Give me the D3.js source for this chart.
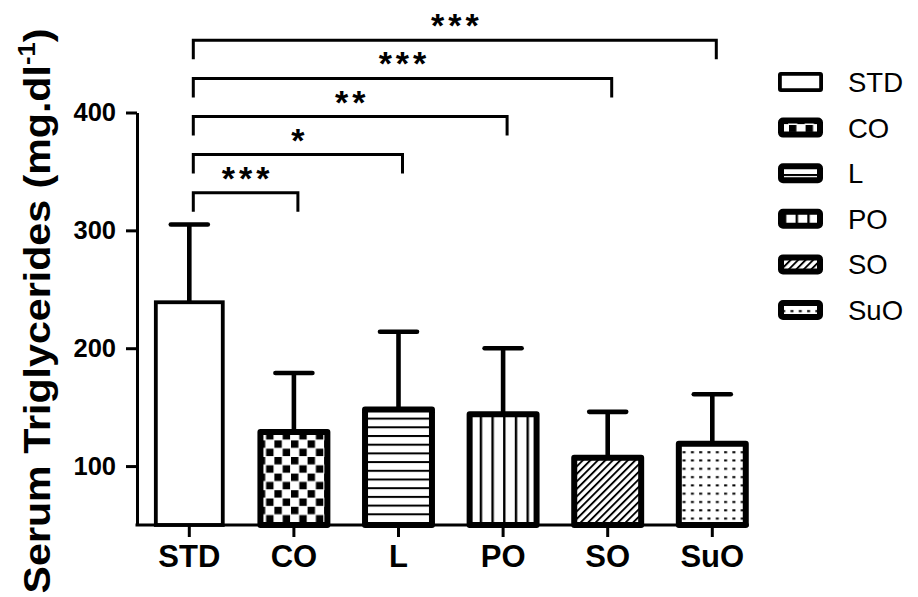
<!DOCTYPE html>
<html>
<head>
<meta charset="utf-8">
<script src="https://cdn.jsdelivr.net/npm/d3@7"></script>
<style>
  html, body { margin: 0; padding: 0; background: #fff; }
  svg { display: block; }
  text { font-family: Arial, "Liberation Sans", Helvetica, sans-serif; fill: #000; }
</style>
</head>
<body>
<svg id="chart" width="918" height="597"></svg>
<script>
// Serum triglycerides by diet group (mean + SD)
const categories = ["STD", "CO", "L", "PO", "SO", "SuO"];
const means = [239, 129, 148, 144, 107, 119];
const sds = [66, 50, 66, 56, 39, 42];
const yTicks = [100, 200, 300, 400];

// Pairwise comparisons against STD
const compareTo = ["CO", "L", "PO", "SO", "SuO"];
const compareStars = ["***", "*", "**", "***", "***"];

const data = categories.map((c, i) => ({ cat: c, mean: means[i], sd: sds[i] }));

const svg = d3.select("#chart");

const x = d3.scaleBand()
  .domain(categories)
  .range([137, 764.6])
  .paddingInner(0.36)
  .paddingOuter(0.18);

const y = d3.scaleLinear()
  .domain([50, 400])
  .range([525, 112.5]);

// ---- fill patterns ----
const defs = svg.append("defs");
function pat(id, w, h, draw, transform) {
  const p = defs.append("pattern")
    .attr("id", id)
    .attr("patternUnits", "userSpaceOnUse")
    .attr("width", w).attr("height", h);
  if (transform) p.attr("patternTransform", transform);
  p.append("rect").attr("width", w).attr("height", h).attr("fill", "#fff");
  draw(p);
}
pat("p-checker", 16.6, 16.6, p => {
  p.append("rect").attr("x", 0.5).attr("y", 0.5).attr("width", 7.4).attr("height", 7.4).attr("fill", "#000");
  p.append("rect").attr("x", 8.8).attr("y", 8.8).attr("width", 7.4).attr("height", 7.4).attr("fill", "#000");
});
pat("p-hlines", 10, 8.7, p => {
  p.append("rect").attr("x", 0).attr("y", 0).attr("width", 10).attr("height", 2).attr("fill", "#000");
});
pat("p-vlines", 11.7, 10, p => {
  p.append("rect").attr("x", 0).attr("y", 0).attr("width", 2.4).attr("height", 10).attr("fill", "#000");
});
pat("p-diag", 5.3, 10, p => {
  p.append("rect").attr("x", 0).attr("y", 0).attr("width", 1.9).attr("height", 10).attr("fill", "#000");
}, "rotate(45)");
pat("p-dots", 8.3, 8.3, p => {
  p.append("rect").attr("x", 2).attr("y", 3).attr("width", 3).attr("height", 2).attr("fill", "#000");
});

const fillFor = {
  STD: "#fff",
  CO: "url(#p-checker)",
  L: "url(#p-hlines)",
  PO: "url(#p-vlines)",
  SO: "url(#p-diag)",
  SuO: "url(#p-dots)"
};
const strokeFor = c => (c === "STD" ? 3.8 : 6);

// ---- error bars (upper SD only) ----
const capHalf = 18.5;
const eb = svg.append("g").attr("class", "errorbars");
data.forEach(d => {
  const cx = x(d.cat) + x.bandwidth() / 2;
  eb.append("line")
    .attr("x1", cx).attr("x2", cx)
    .attr("y1", y(d.mean)).attr("y2", y(d.mean + d.sd))
    .attr("stroke", "#000").attr("stroke-width", 4.6);
  eb.append("line")
    .attr("x1", cx - capHalf).attr("x2", cx + capHalf)
    .attr("y1", y(d.mean + d.sd)).attr("y2", y(d.mean + d.sd))
    .attr("stroke", "#000").attr("stroke-width", 4.6)
    .attr("stroke-linecap", "round");
});

// ---- bars ----
svg.append("g").attr("class", "bars")
  .selectAll("rect")
  .data(data)
  .join("rect")
  .attr("x", d => x(d.cat))
  .attr("width", x.bandwidth())
  .attr("y", d => y(d.mean))
  .attr("height", d => y(50) - y(d.mean))
  .attr("fill", d => fillFor[d.cat])
  .attr("stroke", "#000")
  .attr("stroke-width", d => strokeFor(d.cat))
  .attr("stroke-linejoin", d => d.cat === "STD" ? "miter" : "round");

// ---- axes ----
const yAxis = d3.axisLeft(y)
  .tickValues(yTicks)
  .tickSize(11)
  .tickSizeOuter(0)
  .tickPadding(10)
  .tickFormat(d3.format("d"));
const gy = svg.append("g").attr("transform", "translate(137,0)").call(yAxis);
gy.select(".domain").attr("stroke", "#000").attr("stroke-width", 3);
gy.selectAll(".tick line").attr("stroke", "#000").attr("stroke-width", 3);
gy.selectAll(".tick text")
  .attr("font-size", 25.5).attr("font-weight", "bold")
  .attr("font-family", "Arial, 'Liberation Sans', sans-serif").attr("fill", "#000");

const xAxis = d3.axisBottom(x)
  .tickSize(12)
  .tickSizeOuter(0)
  .tickPadding(8);
const gx = svg.append("g").attr("transform", `translate(0,${y(50)})`).call(xAxis);
const lastBand = x(categories[categories.length - 1]) + x.bandwidth();
gx.select(".domain").attr("d", `M135.5,0H${lastBand + 3}`).attr("stroke", "#000").attr("stroke-width", 3);
gx.selectAll(".tick line").attr("stroke", "#000").attr("stroke-width", 3);
gx.selectAll(".tick text")
  .attr("font-size", 31).attr("font-weight", "bold")
  .attr("font-family", "Arial, 'Liberation Sans', sans-serif").attr("fill", "#000");

// ---- y title (rotated, with superscript) ----
const titleG = svg.append("g");
const title = titleG.append("text")
  .attr("font-size", 37).attr("font-weight", "bold")
  .attr("text-anchor", "middle");
title.append("tspan").text("Serum Triglycerides (mg.dl");
title.append("tspan").attr("font-size", 23).attr("dy", -15).text("-1");
title.append("tspan").attr("dy", 15).text(")");
const natural = title.node().getComputedTextLength();
const stretch = 565 / natural;
titleG.attr("transform", `translate(50,311) rotate(-90) scale(${stretch},1)`);

// ---- significance brackets ----
const centerX = c => x(c) + x.bandwidth() / 2;
const baseLevel = 332, levelStep = 32.3, drop = 19;
const starSpacing = 4;
const br = svg.append("g").attr("class", "brackets");
compareTo.forEach((c, i) => {
  const by = y(baseLevel + levelStep * i);
  const x0 = centerX("STD") + 4;
  const x1 = centerX(c) + 4;
  br.append("path")
    .attr("d", `M${x0},${by + drop}V${by}H${x1}V${by + drop}`)
    .attr("fill", "none").attr("stroke", "#000").attr("stroke-width", 3);
  br.append("text")
    .attr("x", (x0 + x1) / 2 + starSpacing / 2).attr("y", by - 3)
    .attr("text-anchor", "middle")
    .attr("font-size", 34).attr("font-weight", "bold")
    .attr("letter-spacing", starSpacing)
    .text(compareStars[i]);
});

// ---- legend ----
const lg = svg.append("g").attr("class", "legend");
categories.forEach((c, i) => {
  const cy = 82 + i * 45.6;
  const sw = strokeFor(c);
  lg.append("rect")
    .attr("x", 778 + sw / 2).attr("y", cy - 10 + sw / 2)
    .attr("width", 45 - sw).attr("height", 20 - sw)
    .attr("rx", c === "STD" ? 1 : 2)
    .attr("fill", fillFor[c]).attr("stroke", "#000").attr("stroke-width", sw);
  lg.append("text")
    .attr("x", 848).attr("y", cy + 10)
    .attr("font-size", 27.5)
    .text(c);
});
</script>
</body>
</html>
